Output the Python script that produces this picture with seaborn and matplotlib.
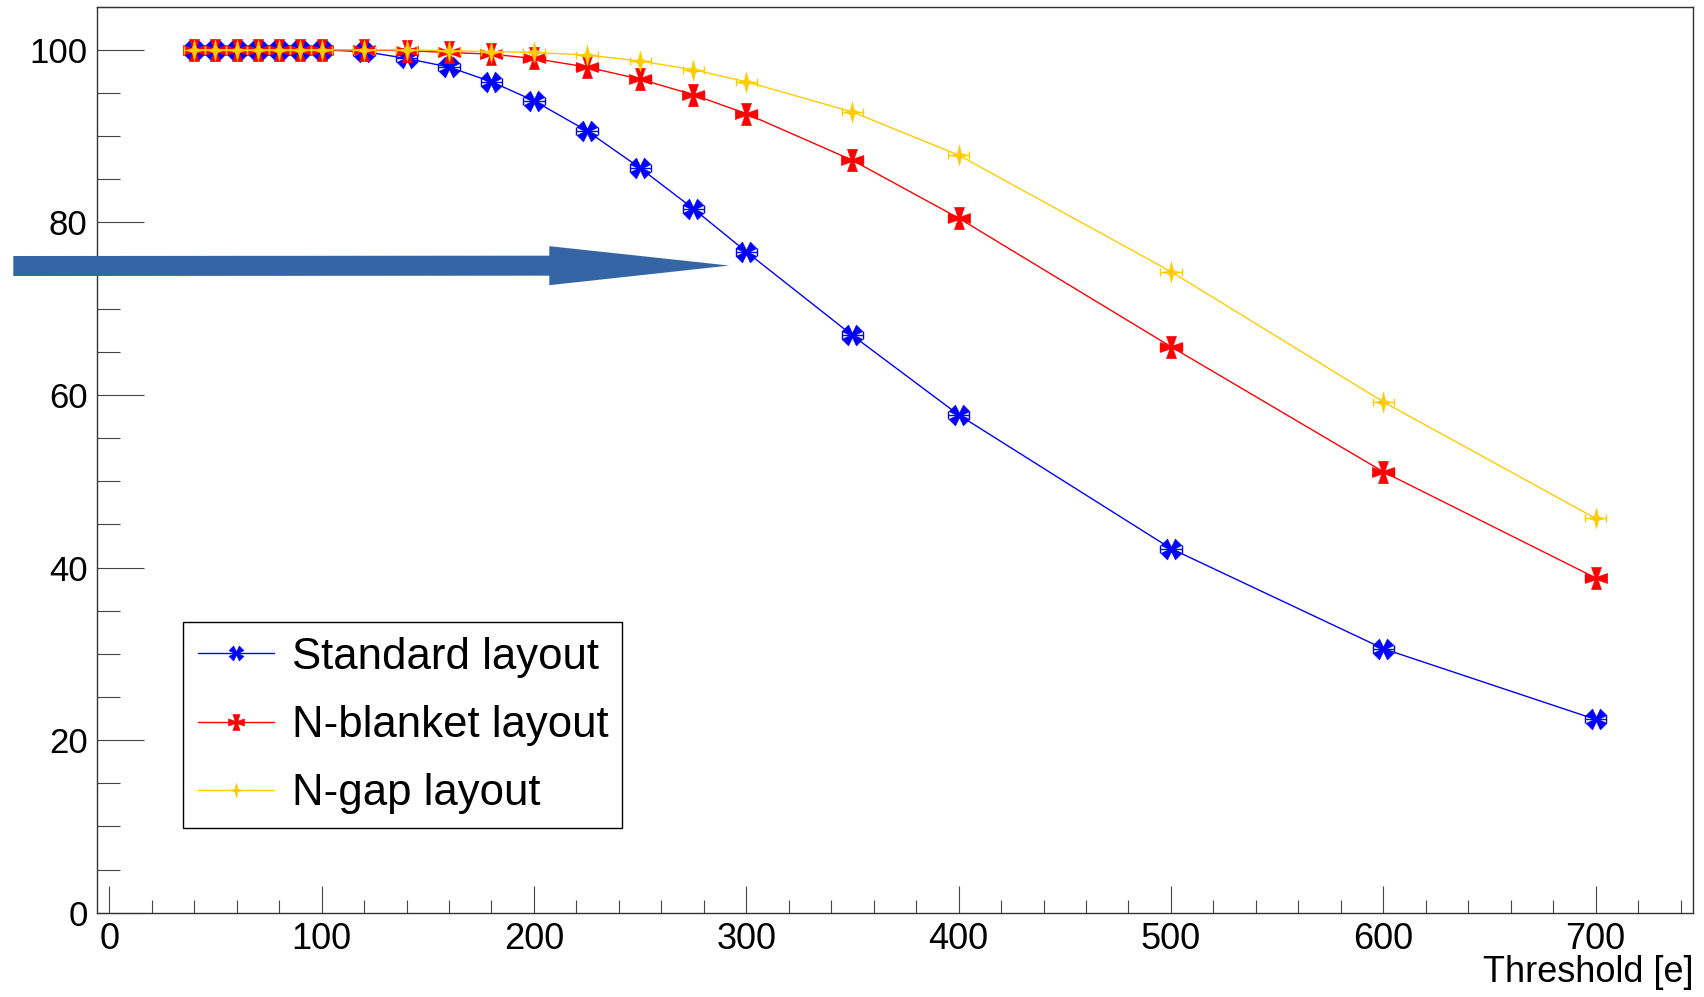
import numpy as np
import pandas as pd
import seaborn as sns
import matplotlib
matplotlib.use("Agg")
import matplotlib.pyplot as plt
from matplotlib.path import Path
from matplotlib.lines import Line2D
from matplotlib.ticker import MultipleLocator
from matplotlib import font_manager

# ---------------- data ----------------
threshold = [40, 50, 60, 70, 80, 90, 100, 120, 140, 160, 180, 200, 225, 250, 275, 300, 350, 400, 500, 600, 700]
standard = [100, 100, 100, 100, 100, 100, 100, 99.8, 99.0, 98.0, 96.3, 94.1, 90.6, 86.3, 81.6, 76.6, 66.9, 57.7, 42.2, 30.6, 22.4]
n_blanket = [100, 100, 100, 100, 100, 100, 100, 100, 99.9, 99.7, 99.5, 99.0, 98.0, 96.6, 94.8, 92.6, 87.2, 80.5, 65.6, 51.1, 38.8]
n_gap = [100, 100, 100, 100, 100, 100, 100, 100, 100, 99.9, 99.8, 99.7, 99.4, 98.7, 97.7, 96.3, 92.8, 87.8, 74.3, 59.2, 45.7]
x_err = 5.0
series_names = ["Standard layout", "N-blanket layout", "N-gap layout"]
x_ticks = [0, 100, 200, 300, 400, 500, 600, 700]
y_ticks = [0, 20, 40, 60, 80, 100]
x_label = "Threshold [e]"

# ---------------- style ----------------
sns.set_theme(style="white")
plt.rcParams["font.family"] = ["Liberation Sans", "DejaVu Sans"]

narrow_ok = False
try:
    fp = font_manager.findfont(font_manager.FontProperties(family="Liberation Sans Narrow"),
                               fallback_to_default=False)
    narrow_ok = "Narrow" in fp
except Exception:
    narrow_ok = False
if narrow_ok:
    leg_family, leg_size = ["Liberation Sans Narrow", "DejaVu Sans"], 34
else:
    leg_family, leg_size = ["Liberation Sans", "DejaVu Sans"], 31.5

W, H = 1704, 997
fig = plt.figure(figsize=(W / 100, H / 100), dpi=100)
ax = fig.add_axes([97.3 / W, 1 - 912.7 / H, (1693.3 - 97.3) / W, (912.7 - 6.7) / H])
ax.set_facecolor("white")


def maltese(rot_deg):
    a, c = 0.45, 0.16
    pts = [(-a, 1), (a, 1), (c, c), (1, a), (1, -a), (c, -c), (a, -1), (-a, -1),
           (-c, -c), (-1, -a), (-1, a), (-c, c)]
    t = np.deg2rad(rot_deg)
    R = np.array([[np.cos(t), -np.sin(t)], [np.sin(t), np.cos(t)]])
    v = np.array(pts) @ R.T
    v = np.vstack([v, v[:1]])
    codes = [Path.MOVETO] + [Path.LINETO] * (len(v) - 2) + [Path.CLOSEPOLY]
    return Path(v, codes)


def star4():
    b = 0.2
    pts = [(0, 1), (b, b), (0.75, 0), (b, -b), (0, -1), (-b, -b), (-0.75, 0), (-b, b)]
    v = np.array(pts)
    v = np.vstack([v, v[:1]])
    codes = [Path.MOVETO] + [Path.LINETO] * (len(v) - 2) + [Path.CLOSEPOLY]
    return Path(v, codes)


colors = ["#0000ff", "#ff0000", "#ffcc00"]
markers = [maltese(45), maltese(0), star4()]
msizes = [15, 16, 15]

df = pd.DataFrame({
    "threshold": threshold * 3,
    "efficiency": standard + n_blanket + n_gap,
    "layout": sum([[n] * len(threshold) for n in series_names], []),
})

handles = []
for i, (name, col, mk, ms) in enumerate(zip(series_names, colors, markers, msizes)):
    sub = df[df["layout"] == name]
    sns.lineplot(data=sub, x="threshold", y="efficiency", ax=ax, color=col,
                 lw=1.0, marker=mk, markersize=ms, markeredgewidth=0.4,
                 markeredgecolor=col, sort=False, errorbar=None, zorder=3 + i,
                 legend=False)
    ax.errorbar(sub["threshold"], sub["efficiency"], xerr=x_err, fmt="none",
                ecolor=col, elinewidth=1.0, capsize=3, capthick=1.0, zorder=3 + i)
    handles.append(Line2D([], [], color=col, lw=1.0, marker=mk, markersize=ms * 0.72,
                          markeredgewidth=0.4, markeredgecolor=col, label=name))

ax.set_xlim(-5.65, 746)
ax.set_ylim(0, 105)
ax.set_xticks(x_ticks)
ax.set_yticks(y_ticks)
ax.xaxis.set_minor_locator(MultipleLocator(20))
ax.yaxis.set_minor_locator(MultipleLocator(5))

tick_col = "#444444"
ax.tick_params(axis="x", which="major", direction="in", length=19.4, width=0.8,
               color=tick_col, labelsize=26, pad=7, bottom=True, top=False, labelcolor="black")
ax.tick_params(axis="x", which="minor", direction="in", length=9.1, width=0.8,
               color=tick_col, bottom=True, top=False)
ax.tick_params(axis="y", which="major", direction="in", length=33.8, width=0.8,
               color=tick_col, labelsize=25, pad=7, left=True, right=False, labelcolor="black")
ax.tick_params(axis="y", which="minor", direction="in", length=16.6, width=0.8,
               color=tick_col, left=True, right=False)

for sp in ax.spines.values():
    sp.set_visible(True)
    sp.set_color("#333333")
    sp.set_linewidth(1.0)

ax.set_xlabel(x_label, fontsize=26, loc="right", color="black")
ax.xaxis.set_label_coords(1.0, -0.047)
ax.xaxis.label.set_va("top")
ax.xaxis.label.set_ha("right")
ax.set_ylabel("")

leg = ax.legend(handles=handles, loc="upper left",
                bbox_to_anchor=(183.3 / W, 1 - 622.3 / H - 0.01, (621.7 - 183.3) / W, 0.01),
                bbox_transform=fig.transFigure, mode="expand", borderaxespad=0,
                prop={"family": leg_family, "size": leg_size},
                frameon=True, fancybox=False, framealpha=1,
                edgecolor="black", handlelength=1.75, handletextpad=0.4,
                labelspacing=0.62, borderpad=0.33)
leg.get_frame().set_linewidth(1.0)
leg.set_zorder(10)
for t in leg.get_texts():
    t.set_color("black")

# annotation arrow pointing at the Standard-layout curve
ax.annotate("", xy=(292, 75.0), xycoords="data",
            xytext=(13.3, H - 266), textcoords="figure pixels",
            arrowprops=dict(arrowstyle="simple,head_length=12.96,head_width=2.81,tail_width=1.44",
                            mutation_scale=10, color="#3465a4", lw=0,
                            shrinkA=0, shrinkB=0),
            annotation_clip=False, zorder=20)

fig.savefig("out.png", dpi=100)
